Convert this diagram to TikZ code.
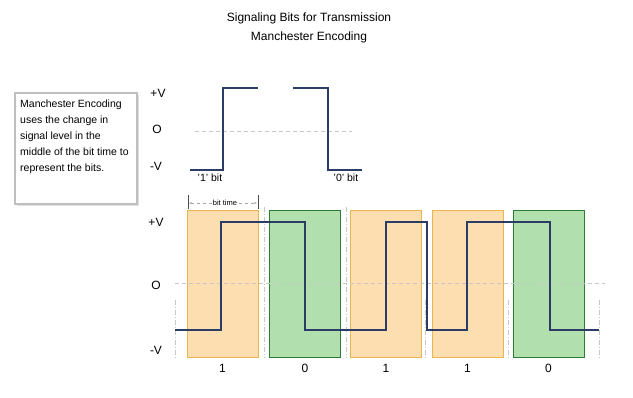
\documentclass[tikz,border=0pt]{standalone}
\usepackage{fontspec}
\setmainfont{Liberation Sans}
\usetikzlibrary{arrows.meta}
\definecolor{sig}{HTML}{2B3D66}
\definecolor{sigin}{HTML}{3A3A48}
\definecolor{orfill}{HTML}{FDDEB0}
\definecolor{ordraw}{HTML}{E9B54E}
\definecolor{grfill}{HTML}{B2DFAE}
\definecolor{grdraw}{HTML}{2F7D35}
\definecolor{guide}{HTML}{C8C8C8}
\tikzset{
  lbl/.style={font=\fontsize{12}{14}\selectfont, inner sep=0pt},
  small/.style={font=\fontsize{10.5}{12}\selectfont, inner sep=0pt},
  tiny/.style={font=\fontsize{7.5}{8}\selectfont, inner sep=1pt, fill=white},
  sigline/.style={draw=sig, line width=1.4pt, line join=miter},
  guideline/.style={draw=guide, dash pattern=on 4pt off 3pt, line width=0.6pt},
  onebox/.style={fill=orfill, draw=ordraw, line width=0.8pt},
  zerobox/.style={fill=grfill, draw=grdraw, line width=0.8pt},
}
\begin{document}
\begin{tikzpicture}[x=1pt,y=-1pt]
\useasboundingbox[fill=white] (0,0) rectangle (633,397);
% title
\node[lbl] (t1) at (309,18) {Signaling Bits for Transmission};
\node[lbl] (t2) at (309,37) {Manchester Encoding};
% explanation box
\fill[gray!25] (17,95) rectangle (139,206);
\node[draw=gray!50, line width=1.3pt, fill=white, minimum width=122pt, minimum height=111pt, inner sep=0pt] (box) at (76,148.5) {};
\node[small, anchor=north west, align=left, font=\fontsize{10.5}{16}\selectfont] (btext) at (20,100) {Manchester Encoding\\uses the change in\\signal level in the\\middle of the bit time to\\represent the bits.};
% top waveform
\node[lbl] (pv1) at (158,93) {+V};
\node[lbl] (o1) at (157,129) {O};
\node[lbl] (mv1) at (156,166) {-V};
\draw[guideline] (195,131) -- (352,131);
\coordinate (a0) at (190,170);
\coordinate (a3) at (258,88);
\draw[sigline] (a0) -- (223,170) -- (223,88) -- (a3);
\coordinate (b0) at (293,88);
\coordinate (b3) at (362,170);
\draw[sigline] (b0) -- (328,88) -- (328,170) -- (b3);
\node[small] (l1) at (210,178) {'1' bit};
\node[small] (l0) at (346,178) {'0' bit};
% bit time marker
\coordinate (bt1a) at (188,195);
\coordinate (bt1b) at (188,209);
\coordinate (bt2a) at (258,195);
\coordinate (bt2b) at (258,209);
\draw[black!70, line width=0.9pt] (bt1a) -- (bt1b);
\draw[black!70, line width=0.9pt] (bt2a) -- (bt2b);
\draw[gray!70, dashed, line width=0.5pt, {Stealth[length=3pt]}-{Stealth[length=3pt]}] (189,203) -- (257,203);
\node[tiny] (btl) at (225,203) {bit time};
% bottom axis labels
\node[lbl] (pv2) at (156,222) {+V};
\node[lbl] (o2) at (156,285) {O};
\node[lbl] (mv2) at (156,350) {-V};
% bit boxes
\node[onebox, minimum width=71pt, minimum height=147pt, inner sep=0pt] (bx1) at (222.5,283.5) {};
\node[zerobox, minimum width=71pt, minimum height=147pt, inner sep=0pt] (bx2) at (305,283.5) {};
\node[onebox, minimum width=71pt, minimum height=147pt, inner sep=0pt] (bx3) at (386,283.5) {};
\node[onebox, minimum width=71pt, minimum height=147pt, inner sep=0pt] (bx4) at (467.5,283.5) {};
\node[zerobox, minimum width=71pt, minimum height=147pt, inner sep=0pt] (bx5) at (548.5,283.5) {};
% guides
\draw[guideline] (175,283) -- (605,283);
\foreach \x/\ya in {175/300, 264/207, 346/207, 425/300, 508/300, 599/300} {
  \draw[guide, dash pattern=on 5pt off 2pt on 1pt off 2pt, line width=0.6pt] (\x,\ya) -- (\x,358);
}
% signal
\draw[sigline] (175,330) -- (221,330) -- (221,222) -- (305,222) -- (305,330) -- (386,330) -- (386,222) -- (427,222) -- (427,330) -- (467,330) -- (467,222) -- (550,222) -- (550,330) -- (599,330);
% bit labels
\node[lbl] (n1) at (222.5,368) {1};
\node[lbl] (n2) at (305,368) {0};
\node[lbl] (n3) at (386,368) {1};
\node[lbl] (n4) at (467.5,368) {1};
\node[lbl] (n5) at (548.5,368) {0};
\end{tikzpicture}
\end{document}
